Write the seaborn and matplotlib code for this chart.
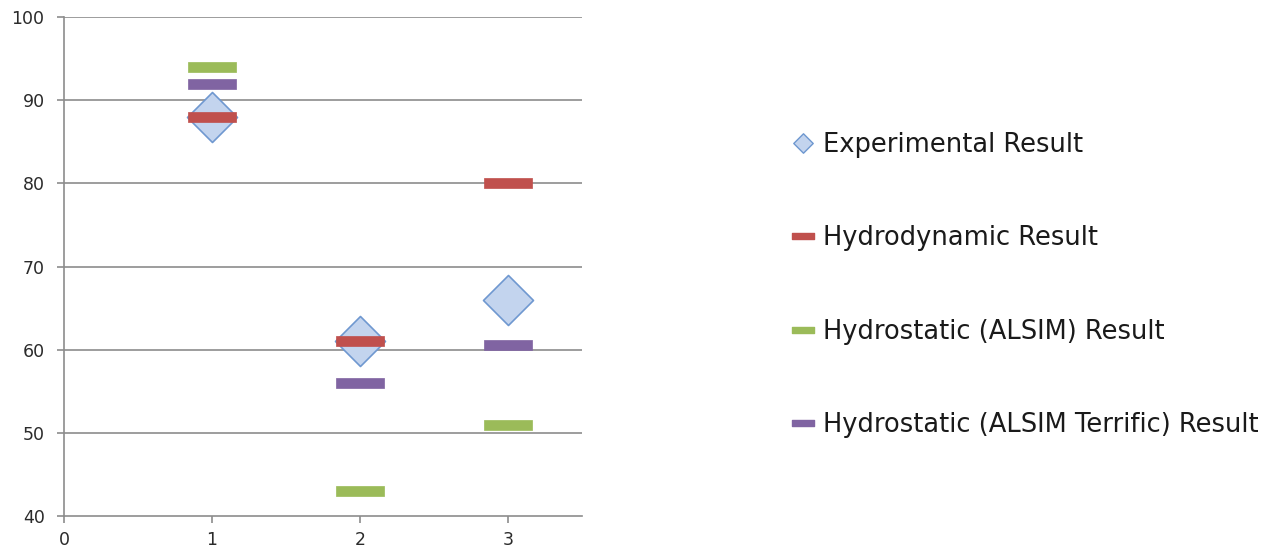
import matplotlib
matplotlib.use("Agg")
import matplotlib.pyplot as plt
from matplotlib.path import Path
from matplotlib.lines import Line2D
import seaborn as sns
import pandas as pd

# Case numbers on the x axis
cases = [1, 2, 3]

# Results per method
experimental = [88, 61, 66]
hydrodynamic = [88, 61, 80]
hydrostatic_alsim = [94, 43, 51]
hydrostatic_terrific = [92, 56, 60.6]

series_names = [
    "Experimental Result",
    "Hydrodynamic Result",
    "Hydrostatic (ALSIM) Result",
    "Hydrostatic (ALSIM Terrific) Result",
]

y_ticks = [40, 50, 60, 70, 80, 90, 100]
x_ticks = [0, 1, 2, 3]

sns.set_theme(style="white")
plt.rcParams["font.family"] = ["DejaVu Sans"]

# Marker shapes: a diamond and a flat horizontal bar
diamond = Path([(0, 0.5), (0.5, 0), (0, -0.5), (-0.5, 0), (0, 0.5)],
               [Path.MOVETO, Path.LINETO, Path.LINETO, Path.LINETO, Path.CLOSEPOLY])
bar = Path([(-0.5, -0.1), (0.5, -0.1), (0.5, 0.1), (-0.5, 0.1), (-0.5, -0.1)],
           [Path.MOVETO, Path.LINETO, Path.LINETO, Path.LINETO, Path.CLOSEPOLY])
legend_bar = Path([(-0.5, -0.14), (0.5, -0.14), (0.5, 0.14), (-0.5, 0.14), (-0.5, -0.14)],
                  [Path.MOVETO, Path.LINETO, Path.LINETO, Path.LINETO, Path.CLOSEPOLY])

fig = plt.figure(figsize=(12.86, 5.58), dpi=100)
ax = fig.add_axes([0.0498, 0.0753, 0.4028, 0.8942])

exp_fill = "#c3d4ee"
exp_edge = "#6f98d0"
red = "#c0504d"
green = "#9bbb59"
purple = "#8064a2"

df_exp = pd.DataFrame({"case": cases, "value": experimental})
sns.scatterplot(data=df_exp, x="case", y="value", marker=diamond, s=36**2,
                color=exp_fill, edgecolor=exp_edge, linewidth=1.2, ax=ax, zorder=3)

for vals, col in [(hydrostatic_alsim, green), (hydrostatic_terrific, purple), (hydrodynamic, red)]:
    d = pd.DataFrame({"case": cases, "value": vals})
    sns.scatterplot(data=d, x="case", y="value", marker=bar, s=35**2,
                    color=col, edgecolor=col, linewidth=0.5, ax=ax, zorder=4)

ax.set_xlim(0, 3.5)
ax.set_ylim(40, 100)
ax.set_xticks(x_ticks)
ax.set_yticks(y_ticks)
ax.set_xlabel("")
ax.set_ylabel("")

grid_col = "#8c8c8c"
for yv in y_ticks[1:]:
    ax.axhline(yv, color=grid_col, lw=1.2, zorder=1)

for side in ["top", "right"]:
    ax.spines[side].set_visible(False)
for side in ["left", "bottom"]:
    ax.spines[side].set_color(grid_col)
    ax.spines[side].set_linewidth(1.2)

ax.tick_params(axis="y", direction="out", length=5, width=1.2, color=grid_col,
               pad=9, labelsize=12.5, labelcolor="#2b2b2b", left=True)
ax.tick_params(axis="x", direction="out", length=5, width=1.2, color=grid_col,
               pad=6, labelsize=12.5, labelcolor="#2b2b2b", bottom=True)

handles = [
    Line2D([], [], linestyle="none", marker=diamond, markersize=14,
           markerfacecolor=exp_fill, markeredgecolor=exp_edge, markeredgewidth=1),
    Line2D([], [], linestyle="none", marker=legend_bar, markersize=16,
           markerfacecolor=red, markeredgecolor=red),
    Line2D([], [], linestyle="none", marker=legend_bar, markersize=16,
           markerfacecolor=green, markeredgecolor=green),
    Line2D([], [], linestyle="none", marker=legend_bar, markersize=16,
           markerfacecolor=purple, markeredgecolor=purple),
]
fig.legend(handles, series_names, loc="upper left", bbox_to_anchor=(0.597, 0.805),
           frameon=False, fontsize=18.5, labelspacing=2.62, handlelength=0.95,
           handletextpad=0.3, labelcolor="#1a1a1a")

fig.savefig("out.png", dpi=100)
